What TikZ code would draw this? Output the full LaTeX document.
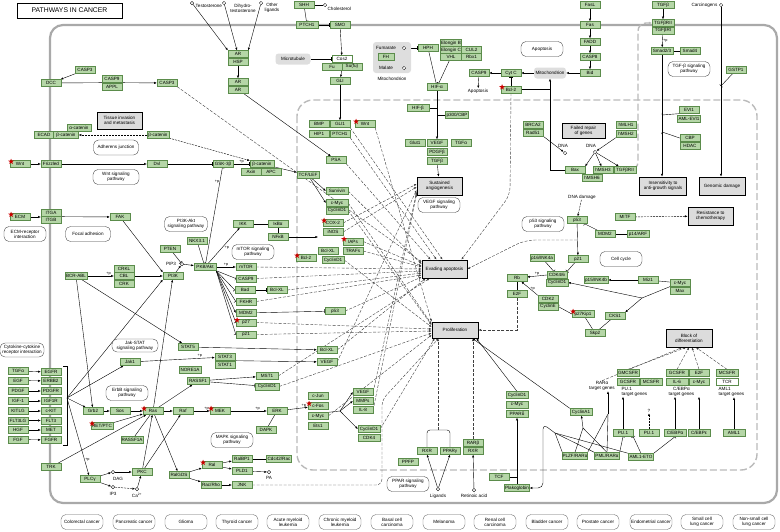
\documentclass[tikz,border=0pt]{standalone}
\usepackage{fontspec}
\setmainfont{Liberation Sans}
\usetikzlibrary{arrows.meta, positioning, shapes.geometric, calc, backgrounds}
\definecolor{kfill}{HTML}{B5D6A7}
\definecolor{kline}{HTML}{5B8C4B}
\definecolor{kgrey}{HTML}{A9A9A9}
\definecolor{kpheno}{HTML}{DCDCDC}
\newcommand{\genefont}{\fontsize{4.6}{5}\selectfont}
\tikzset{
  every picture/.style={line width=0.35pt},
  gene/.style={draw=kline, fill=kfill, font=\genefont, minimum width=#1, minimum height=7pt, inner sep=0pt},
  gene/.default=20pt,
  wgene/.style={gene, fill=white},
  mutstar/.style={star, star points=5, star point ratio=2.4, fill=red!80!black, inner sep=0pt, minimum size=6pt, xshift=3pt, yshift=-3pt},
  mut/.style={label={[mutstar]north west:{}}},
  cpd/.style={circle, draw, fill=white, inner sep=0pt, minimum size=3.5pt},
  lbl/.style={font=\genefont, inner sep=0.5pt, align=center},
  pl/.style={font=\fontsize{3.8}{4}\selectfont, inner sep=0.5pt},
  pway/.style={draw=black!75, fill=white, rounded corners=5pt, align=center, font=\genefont, minimum width=42pt, minimum height=15pt, inner sep=1pt},
  pheno/.style={draw=black, line width=0.9pt, fill=kpheno, align=center, font=\genefont, minimum width=46pt, minimum height=18pt, inner sep=1pt},
  greybox/.style={fill=black!13, rounded corners=3pt, font=\genefont, minimum height=11pt, inner sep=1pt},
  cancer/.style={draw=black!60, rounded corners=5pt, align=center, font=\genefont, minimum width=42pt, minimum height=15pt, inner sep=1pt},
  titlebox/.style={draw, line width=0.8pt, font=\fontsize{6.8}{7}\selectfont, minimum width=105pt, minimum height=15pt},
  membrane/.style={draw=kgrey, line width=2.2pt, rounded corners=13pt},
  nucleus/.style={draw=kgrey!80, line width=1.4pt, dash pattern=on 7pt off 3pt, rounded corners=16pt},
  act/.style={-{Latex[length=2.6pt, width=2.2pt]}},
  inh/.style={-{Bar[width=4pt]}},
  ind/.style={-{Latex[length=2.6pt, width=2.2pt]}, dash pattern=on 2pt off 1pt},
  phen/.style={-{Latex[length=2.6pt, width=2.2pt]}, dash pattern=on 3pt off 1.5pt, draw=black!75},
  bond/.style={},
}

\begin{document}
\begin{tikzpicture}[x=1pt, y=-1pt]
  \useasboundingbox (0,0) rectangle (780,531);

  \node[titlebox] (title) at (69.5,10.5) {PATHWAYS IN CANCER};

  \node[gene] (casp3a) at (85,70) {CASP3};
  \node[gene] (dcc) at (51,83) {DCC};
  \node[gene] (casp9a) at (112,79) {CASP9};
  \node[gene] (appl) at (112,86.5) {APPL};
  \node[gene] (casp3b) at (167,83) {CASP3};
  \node[pheno, minimum width=45pt, minimum height=17pt] (tissue) at (119.5,120.5) {Tissue invasion\\and metastasis};
  \node[gene=24pt] (acat) at (79,127.5) {α-catenin};
  \node[gene=19pt] (ecad) at (44,135) {ECAD};
  \node[gene=25pt] (bcat1) at (66,135) {β-catenin};
  \node[gene=22pt] (bcat2) at (158,135) {β-catenin};
  \node[pway, minimum width=45pt] (adherens) at (116,147.5) {Adherens junction};
  \node[gene, mut] (wnt1) at (20,164) {Wnt};
  \node[gene] (fzd) at (51,164) {Frizzled};
  \node[gene] (dvl) at (157,164) {Dvl};
  \node[pway, minimum width=46pt] (wntpw) at (116,177) {Wnt signaling\\pathway};

  \node[cpd] (testo) at (192,3) {};
  \node[lbl, anchor=west] (testolbl) at (195,6) {Testosterone};
  \node[cpd] (dht) at (224,3) {};
  \node[lbl] (dhtlbl) at (243,8) {Dihydro-\\testosterone};
  \node[cpd] (oth) at (261,3) {};
  \node[lbl] (othlbl) at (272,8) {Other\\ligands};
  \node[gene] (ar1) at (238,54) {AR};
  \node[gene] (hsp) at (238,61.5) {HSP};
  \node[gene] (ar2) at (238,82) {AR};
  \node[gene] (ar3) at (238,89.5) {AR};
  \node[gene] (shh) at (304,5) {SHH};
  \node[cpd] (chol) at (325,5) {};
  \node[lbl, anchor=west] (chollbl) at (327,9) {Cholesterol};
  \node[gene=22pt] (ptch1a) at (307,25) {PTCH1};
  \node[gene] (smo) at (340,25) {SMO};
  \node[greybox, minimum width=35pt] (microt) at (293,59) {Microtubule};
  \node[wgene] (cos2) at (342,59) {Cos2};
  \node[gene] (fu) at (332,66.5) {Fu};
  \node[gene] (sufu) at (352,66.5) {Su(fu)};
  \node[gene] (gli) at (340,81) {GLI};

  \node[greybox, minimum width=38pt, minimum height=31pt] (mitoreg) at (392,57.5) {};
  \node[lbl] (fumlbl) at (386,48) {Fumarate};
  \node[cpd] (fum) at (404,48) {};
  \node[gene=16pt] (fh) at (386,57) {FH};
  \node[lbl] (mallbl) at (386,68) {Malate};
  \node[cpd] (mal) at (404,68) {};
  \node[lbl] (mitolbl) at (392,79) {Mitochondrion};
  \node[gene] (hph) at (428,48) {HPH};
  \node[gene=21pt] (elob) at (451,43) {Elongin B};
  \node[gene=21pt] (eloc) at (451,50) {Elongin C};
  \node[gene] (cul2) at (471.5,50) {CUL2};
  \node[gene=21pt] (vhl) at (451,57) {VHL};
  \node[gene] (rbx1) at (471.5,57) {Rbx1};
  \node[gene] (hifa) at (437,87) {HIF-α};
  \node[gene=22pt] (hifb) at (418,108) {HIF-β};
  \node[gene=23pt] (p300) at (457,115) {p300/CBP};
  \node[gene] (glut1) at (415,143) {Glut1};
  \node[gene] (vegf1) at (437,143) {VEGF};
  \node[gene] (tgfa1) at (461,143) {TGFα};
  \node[gene] (pdgfb) at (437,152) {PDGFβ};
  \node[gene] (tgfb1) at (437,161) {TGFβ};

  \node[pway] (apopw) at (542,49) {Apoptosis};
  \node[gene] (casp9b) at (479,73) {CASP9};
  \node[gene] (cytc) at (511,73) {Cyt C};
  \node[greybox, minimum width=32pt] (mitoch) at (550,73) {Mitochondrion};
  \node[lbl] (apolbl) at (478,91) {Apoptosis};
  \node[gene, mut] (bcl2a) at (511,89.5) {Bcl-2};
  \node[gene] (brca2) at (533,125) {BRCA2};
  \node[gene] (rad51) at (533,132.5) {Rad51};
  \node[cpd] (dna1) at (565,153) {};
  \node[lbl] (dna1lbl) at (563,146) {DNA};
  \node[gene] (fasl) at (590,5) {FasL};
  \node[gene] (fas) at (590,25) {Fas};
  \node[gene] (fadd) at (590,42) {FADD};
  \node[gene] (casp8) at (590,57) {CASP8};
  \node[gene] (bid) at (590,73) {Bid};
  \node[gene=22pt] (tgfb0) at (663,5) {TGFβ};
  \node[gene=22pt] (tgfbr2a) at (663,23) {TGFβRII};
  \node[gene=22pt] (tgfbr1) at (663,30.5) {TGFβRI};
  \node[gene=22pt] (smad23) at (662,51) {Smad2/3};
  \node[gene] (smad4) at (690,51) {Smad4};
  \node[pway] (tgfbpw) at (689,69) {TGF-β signaling\\pathway};
  \node[lbl, anchor=east] (carclbl) at (718,5) {Carcinogens};
  \node[cpd] (carc) at (721,5) {};
  \node[gene] (gstp1) at (736,70) {GSTP1};
  \node[gene] (evi1) at (689,110) {EVI1};
  \node[gene=23pt] (amlevi) at (689,119) {AML-EVI1};
  \node[gene] (cbp) at (690,138) {CBP};
  \node[gene] (hdac) at (690,145.5) {HDAC};
  \node[pheno, minimum width=43pt, minimum height=15pt] (failed) at (583.5,130.5) {Failed repair\\of genes};
  \node[gene] (hmlh1) at (626,125) {hMLH1};
  \node[gene] (hmsh2) at (626,134) {hMSH2};
  \node[cpd] (dna2) at (595,152) {};
  \node[lbl] (dna2lbl) at (591,146) {DNA};
  \node[gene] (bax) at (575,170) {Bax};
  \node[gene] (hmsh3) at (603,170) {hMSH3};
  \node[gene=22pt] (tgfbr2b) at (625,170) {TGFβRII};
  \node[gene] (hmsh6) at (592,178) {hMSH6};
  \node[pheno, minimum width=47pt] (insens) at (663,186) {Insensitivity to\\anti-growth signals};
  \node[pheno] (genomic) at (722,186) {Genomic damage};

  \node[gene, mut] (ecm) at (20,217) {ECM};
  \node[gene] (itga) at (51,213) {ITGA};
  \node[gene] (itgb) at (51,220) {ITGB};
  \node[gene] (fak) at (120,217) {FAK};
  \node[pway] (ecmpw) at (25,234) {ECM-receptor\\interaction};
  \node[pway, minimum width=45pt] (focalpw) at (88,234) {Focal adhesion};
  \node[pway, minimum width=43pt] (pi3kpw) at (186,224) {PI3K-Akt\\signaling pathway};
  \node[gene] (nkx) at (197,241) {NKX3.1};
  \node[gene] (pten) at (170,249) {PTEN};
  \node[lbl] (pip3lbl) at (171,264) {PIP3};
  \node[cpd] (pip3) at (182,264) {};
  \node[gene=22pt] (akt) at (205,267) {PKB/Akt};
  \node[gene=22pt] (bcrabl) at (76,276) {BCR-ABL};
  \node[gene] (crkl) at (124,268.5) {CRKL};
  \node[gene] (cbl) at (124,276) {CBL};
  \node[gene] (crk) at (124,283.5) {CRK};
  \node[gene] (pi3k) at (173,276) {PI3K};
  \node[gene] (ikk) at (243,224) {IKK};
  \node[gene] (ikba) at (278,224) {IκBα};
  \node[gene] (nfkb) at (278,237) {NFκB};
  \node[gene=22pt] (tcflef) at (308,175) {TCF/LEF};
  \node[gene=22pt] (survivin) at (337,191) {Survivin};
  \node[gene=22pt] (cmyc1) at (337,203) {c-Myc};
  \node[gene=22pt] (ccnd1a) at (337,210.5) {CyclinD1};
  \node[gene, mut] (cox2) at (333,223) {COX-2};
  \node[gene] (inos) at (333,232) {iNOS};
  \node[gene, mut] (iaps) at (353,241.5) {IAPs};
  \node[gene] (bclxl1) at (328,251) {Bcl-XL};
  \node[gene] (trafs) at (353,251) {TRAFs};
  \node[gene, mut] (bcl2b) at (306,258) {Bcl-2};
  \node[gene=22pt] (ccnd1b) at (333,260) {CyclinD1};
  \node[pway] (mtorpw) at (253,252) {mTOR signaling\\pathway};
  \node[gene] (mtor) at (246,267) {mTOR};
  \node[gene] (casp9c) at (246,278.5) {CASP9};
  \node[gene] (bad) at (245,290) {Bad};
  \node[gene] (bclxl2) at (277,290) {Bcl-XL};
  \node[gene] (fkhr) at (246,301.5) {FKHR};
  \node[gene] (mdm2a) at (246,313) {MDM2};
  \node[gene] (p53a) at (335,311) {p53};
  \node[gene, mut] (p27a) at (246,322.5) {p27};
  \node[gene] (p21a) at (246,334.5) {p21};
  \node[gene] (bclxl3) at (327,350) {Bcl-XL};
  \node[gene] (bmp) at (319,124) {BMP};
  \node[gene] (gli1) at (340,124) {GLI1};
  \node[gene, mut] (wnt2) at (365,124) {Wnt};
  \node[gene] (hip1) at (319,134) {HIP1};
  \node[gene] (ptch1b) at (340,134) {PTCH1};
  \node[gene] (psa) at (336,160) {PSA};
  \node[gene] (gsk) at (223,164) {GSK-3β};
  \node[gene=24pt] (bcat3) at (262,164) {β-catenin};
  \node[gene] (axin) at (251,172) {Axin};
  \node[gene] (apc) at (271,172) {APC};

  \node[pheno, minimum width=45pt] (angio) at (439.5,186) {Sustained\\angiogenesis};
  \node[pway] (vegfpw) at (439,205) {VEGF signaling\\pathway};
  \node[pheno, minimum width=45pt] (evading) at (444.5,269) {Evading apoptosis};
  \node[pheno, minimum height=16pt] (prolif) at (455,330) {Proliferation};

  \node[pway] (p53pw) at (543,224) {p53 signaling\\pathway};
  \node[lbl] (dnadmg) at (582,197) {DNA damage};
  \node[gene] (p53b) at (577,220) {p53};
  \node[gene] (mdm2b) at (605,234) {MDM2};
  \node[gene=22pt] (p14arf) at (638,234) {p14/ARF};
  \node[gene=24pt] (p16) at (542,258) {p16/INK4a};
  \node[gene] (cdk46) at (557,275) {CDK4/6};
  \node[gene=22pt] (ccnd1c) at (557,282.5) {CyclinD1};
  \node[gene] (rb) at (517,278) {Rb};
  \node[gene] (e2f1) at (517,294) {E2F};
  \node[gene] (cdk2) at (548,299) {CDK2};
  \node[gene] (ccne) at (548,306.5) {CyclinE};
  \node[gene] (p21b) at (578,259) {p21};
  \node[pway] (cellcyc) at (621,259) {Cell cycle};
  \node[gene=24pt] (p15) at (596,280) {p15/INK4b};
  \node[gene] (miz1) at (648,280) {Miz1};
  \node[gene] (cmyc2) at (680,283) {c-Myc};
  \node[gene] (max) at (680,290.5) {Max};
  \node[gene=22pt, mut] (p27b) at (583,314) {p27Kip1};
  \node[gene] (cks1) at (615,316) {CKS1};
  \node[gene] (skp2) at (595,333) {Skp2};
  \node[gene] (mitf) at (625,217) {MITF};
  \node[pheno, minimum width=45pt] (resist) at (710.5,216) {Resistance to\\chemotherapy};
  \node[pheno] (block) at (689,338) {Block of\\differentiation};

  \node[pway, minimum width=44pt, minimum height=14pt] (cytopw) at (22,350) {Cytokine-cytokine\\receptor interaction};
  \node[gene] (tgfa2) at (18,371) {TGFα};
  \node[gene] (egf) at (18,380.5) {EGF};
  \node[gene] (pdgf) at (18,391) {PDGF};
  \node[gene] (igf1) at (18,401) {IGF-1};
  \node[gene] (kitlg) at (18,411) {KITLG};
  \node[gene] (flt3lg) at (18,420.5) {FLT3LG};
  \node[gene] (hgf) at (18,430) {HGF};
  \node[gene] (fgf) at (18,439.5) {FGF};
  \node[gene] (egfr) at (51,372) {EGFR};
  \node[gene] (erbb2) at (51,381) {ERBB2};
  \node[gene] (pdgfr) at (51,391) {PDGFR};
  \node[gene] (igf1r) at (51,401) {IGF1R};
  \node[gene] (ckit) at (51,411) {c-KIT};
  \node[gene] (flt3) at (51,420.5) {FLT3};
  \node[gene] (met) at (51,430) {MET};
  \node[gene] (fgfr) at (51,440) {FGFR};
  \coordinate (rtk) at (67,398);
  \node[gene] (jak1) at (130,362) {Jak1};
  \node[pway, minimum width=46pt, minimum height=13pt] (jakpw) at (135,345.5) {Jak-STAT\\signaling pathway};
  \node[pway] (erbbpw) at (127,393) {ErbB signaling\\pathway};
  \node[gene] (grb2) at (93,411) {Grb2};
  \node[gene] (sos) at (120,411) {Sos};
  \node[gene, mut] (ras) at (153,411) {Ras};
  \node[gene] (raf) at (183,411) {Raf};
  \node[gene=22pt, mut] (retptc) at (102,426) {RET/PTC};
  \node[gene=22pt] (rassf1a) at (132,440) {RASSF1A};
  \node[gene] (trk) at (51,467) {TRK};
  \node[gene] (plcg) at (90,479) {PLCγ};
  \node[cpd] (dag) at (113,472) {};
  \node[lbl] (daglbl) at (118,479) {DAG};
  \node[cpd] (ip3) at (113,487) {};
  \node[lbl] (ip3lbl) at (113,494) {IP3};
  \node[gene] (pkc) at (142,472) {PKC};
  \node[cpd] (ca) at (137,489) {};
  \node[lbl] (calbl) at (137,495.5) {Ca\textsuperscript{2+}};
  \node[gene] (ralgds) at (179,475) {RalGDS};
  \node[gene=22pt] (nore1a) at (190,369.5) {NORE1A};
  \node[gene=22pt] (rassf1) at (198,381) {RASSF1};
  \node[gene] (stat5) at (188,347) {STAT5};
  \node[gene] (stat3) at (225,357) {STAT3};
  \node[gene] (stat1) at (225,365) {STAT1};
  \node[gene] (vegf2) at (327,362) {VEGF};
  \node[gene=22pt] (mst1) at (267,376) {MST1};
  \node[gene=24pt] (ccnd1d) at (267,386.5) {CyclinD1};
  \node[gene, mut] (mek) at (220,411) {MEK};
  \node[gene] (erk) at (277,411) {ERK};
  \node[gene] (dapk) at (266,430) {DAPK};
  \node[gene] (cjun) at (318,396) {c-Jun};
  \node[gene, mut] (cfos) at (318,406) {c-Fos};
  \node[gene] (cmyc3) at (318,416) {c-Myc};
  \node[gene] (ets1) at (318,426) {Ets1};
  \node[gene] (vegf3) at (363,392) {VEGF};
  \node[gene] (mmps) at (363,401) {MMPs};
  \node[gene] (il8) at (363,410) {IL-8};
  \node[gene=22pt] (ccnd1e) at (369,429) {CyclinD1};
  \node[gene=22pt] (cdk4) at (369,438) {CDK4};
  \node[pway] (mapkpw) at (232,440) {MAPK signaling\\pathway};
  \node[gene, mut] (ral) at (212,465) {Ral};
  \node[gene] (ralbp1) at (242,459) {RalBP1};
  \node[gene=25pt] (cdc42) at (279,459) {Cdc42/Rac};
  \node[gene] (pld1) at (242,471) {PLD1};
  \node[cpd] (pa) at (269,472) {};
  \node[lbl] (palbl) at (269,478) {PA};
  \node[gene] (racrho) at (211,485) {Rac/Rho};
  \node[gene] (jnk) at (242,485) {JNK};

  \node[gene] (rxr1) at (427,451) {RXR};
  \node[gene] (pparg) at (450,451) {PPARγ};
  \node[gene] (ppfp) at (408,462) {PPFP};
  \node[gene] (rarb) at (473,443) {RARβ};
  \node[gene] (rxr2) at (473,451) {RXR};
  \node[pway] (pparpw) at (408,484) {PPAR signaling\\pathway};
  \node[cpd] (lig) at (438,489) {};
  \node[lbl] (liglbl) at (438,496) {Ligands};
  \node[cpd] (retac) at (474,490) {};
  \node[lbl] (retaclbl) at (474,496) {Retinoic acid};
  \node[gene] (tcf) at (499,477) {TCF};
  \node[gene=25pt] (plako) at (517,488) {Plakoglobin};
  \node[gene=22pt] (ccnd1f) at (517,395) {CyclinD1};
  \node[gene=22pt] (cmyc4) at (517,404.5) {c-Myc};
  \node[gene=22pt] (ppard) at (517,414) {PPARδ};

  \node[gene=22pt] (ccna1) at (581,412) {CyclinA1};
  \node[gene=25pt] (plzf) at (575,456) {PLZF/RARα};
  \node[gene=25pt] (pml) at (607,456) {PML/RARα};
  \node[gene=25pt] (amleto) at (641,457) {AML1-ETO};
  \node[gene] (pu1a) at (623,433) {PU.1};
  \node[gene] (pu1b) at (649,433) {PU.1};
  \node[gene=22pt] (cebpa) at (675,433) {C/EBPα};
  \node[gene=22pt] (cebpe) at (699,433) {C/EBPε};
  \node[gene=22pt] (aml1) at (734,433) {AML1};
  \node[gene=22pt] (gmcsfr) at (628,373) {GMCSFR};
  \node[gene=22pt] (gcsfr1) at (628,382) {GCSFR};
  \node[gene=22pt] (mcsfr1) at (651,382) {MCSFR};
  \node[gene=22pt] (gcsfr2) at (677,373) {GCSFR};
  \node[gene] (e2f2) at (699,373) {E2F};
  \node[gene=22pt] (il6) at (677,382) {IL-6};
  \node[gene] (cmyc5) at (699,382) {c-Myc};
  \node[gene=22pt] (mcsfr2) at (727,373) {MCSFR};
  \node[wgene, minimum width=22pt] (tcr) at (727,382) {TCR};
  \node[lbl] (rartg) at (602,386) {RARα\\target genes};
  \node[lbl, align=left, anchor=west] (pu1tg) at (621,391.5) {PU.1\\target genes};
  \node[lbl, anchor=west] (cebptg) at (668,391.5) {C/EBPα\\target genes};
  \node[lbl, align=left, anchor=west] (aml1tg) at (718,392) {AML1\\target genes};
  \node[lbl] (qmark) at (649,411) {?};

  \node[cancer] (crc) at (82,522) {Colorectal cancer};
  \node[cancer] (panc) at (134,522) {Pancreatic cancer};
  \node[cancer] (glioma) at (186,522) {Glioma};
  \node[cancer] (thyroid) at (237,522) {Thyroid cancer};
  \node[cancer] (aml) at (288,522) {Acute myeloid\\leukemia};
  \node[cancer] (cml) at (340,522) {Chronic myeloid\\leukemia};
  \node[cancer] (bcc) at (392,522) {Basal cell\\carcinoma};
  \node[cancer] (melan) at (444,522) {Melanoma};
  \node[cancer] (rcc) at (495,522) {Renal cell\\carcinoma};
  \node[cancer] (bladder) at (547,522) {Bladder cancer};
  \node[cancer] (prostate) at (598,522) {Prostate cancer};
  \node[cancer] (endo) at (651,522) {Endometrial cancer};
  \node[cancer] (sclc) at (702,522) {Small cell\\lung cancer};
  \node[cancer] (nsclc) at (754,522) {Non-small cell\\lung cancer};

  \coordinate (hifj1) at (437,108);
  \coordinate (hifj2) at (437,115);
  \coordinate (baxl) at (550,89.5);
  \coordinate (smadl1) at (662,115);
  \coordinate (smadl2) at (662,132);
  \coordinate (carcl) at (721,86);
  \coordinate (nfkbt) at (318,237);
  \coordinate (ap1) at (340,411);
  \coordinate (p53j) at (577,240);
  \coordinate (mycj) at (642,298);
  \coordinate (rarj) at (608,414);
  \coordinate (ccnaj) at (583,428);
  \coordinate (plakj) at (555,433);
  \coordinate (pparj) at (438,430);

  \begin{scope}[on background layer]
  \draw[membrane] (50,25) rectangle (777,503);
  \draw[nucleus] (297,100) rectangle (757,470);
  \draw[nucleus, rounded corners=8pt, -{Latex[length=3pt, width=3pt]}] (tgfbr2b.east) -- (638,170) -- (638,23) -- (tgfbr2a.west);
  \draw[bond] (63,366) -- (67,366) -- (67,445) -- (63,445);

  \draw[act] (casp3a) -- (dcc);
  \draw[bond] (dcc) -- (casp9a.south west);
  \draw[act] (casp9a.south east) -- (casp3b);
  \draw[bond] (acat) -- (bcat1);
  \draw[ind] (bcat2) -- (bcat1);
  \draw[act] (wnt1) -- (fzd);
  \draw[act] (fzd) -- (dvl);
  \draw[inh] (dvl) -- (gsk);
  \draw[inh] (gsk) -- node[pl, above] {+p} (bcat3);
  \draw[ind] (bcat2) -- (bcat3);
  \draw[act] (bcat3) -- (tcflef);
  \draw[act] (tcflef) -- (survivin.west);
  \draw[act] (tcflef) -- (cmyc1.west);
  \draw[act] (testo) -- (ar1.north west);
  \draw[act] (dht) -- (ar1);
  \draw[act] (oth) -- (ar1.north east);
  \draw[act] (hsp) -- (ar2);
  \draw[act] (ar3) -- (psa);
  \draw[bond] (chol) -- (shh);
  \draw[inh] (shh) -- (ptch1a);
  \draw[inh] (ptch1a) -- (smo);
  \draw[act] (smo) -- (cos2);
  \draw[inh] (microt) -- (cos2);
  \draw[act] (sufu.south west) -- (gli);
  \draw[act] (gli) -- (gli1);
  \draw[act] (fum) -- (mal);
  \draw[inh] (fum) -- (hph);
  \draw[inh] (hph) -- (hifa);
  \draw[inh] (vhl) -- (hifa);
  \draw[act] (hifa) -- (vegf1);
  \draw[bond] (hifb) -- (hifj1);
  \draw[bond] (p300) -- (hifj2);
  \draw[act] (tgfb1) -- (angio);

  \draw[act] (fasl) -- (fas);
  \draw[act] (fas) -- (fadd);
  \draw[act] (fadd) -- (casp8);
  \draw[act] (casp8) -- (bid);
  \draw[act] (bid) -- (mitoch);
  \draw[act] (mitoch) -- (cytc);
  \draw[act] (cytc) -- (casp9b);
  \draw[act] (casp9b) -- (apolbl);
  \draw[inh] (bcl2a) -- (cytc);
  \draw[act] (bax.west) -| (mitoch.south);
  \draw[inh] (baxl) -- (bcl2a);
  \draw[phen, rounded corners=8pt] (bcl2a.south) -- (510,195) -- ([xshift=-6pt]evading.north east);
  \draw[act] (rad51.south east) -- (dna1);
  \draw[act] (hmsh2.south west) -- (dna2);
  \draw[act] (dna2) -- (bax.north east);
  \draw[act] (dna2) -- (hmsh3);
  \draw[act] (dna2) -- (tgfbr2b);

  \draw[act] (tgfb0) -- (tgfbr2a);
  \draw[act] (tgfbr1) -- node[pl, right] {+p} (smad23);
  \draw[bond] (smad23) -- (smad4);
  \draw[act] (smad23) -- (smad23 |- insens.north);
  \draw[inh] (evi1.south west) -- (smadl1);
  \draw[inh] (cbp.west) -- (smadl2);
  \draw[act] (carc) -- (carc |- genomic.north);
  \draw[inh] (gstp1) -- (carcl);
  \draw[ind] (mitf) -- (resist);

  \draw[act] (ecm.east) -- (ecm.east -| itga.west);
  \draw[act] (itga.south east) -- (fak);
  \draw[act] (fak) -- (pi3k.north west);
  \draw[act] (bcrabl) -- node[pl, above, pos=0.8] {+p} (cbl);
  \draw[act] (cbl) -- (pi3k);
  \draw[act] (pi3k) -- (pip3);
  \draw[inh] (pten) -- (pip3);
  \draw[act] (pip3) -- (akt);
  \draw[inh] (nkx) -- (akt);
  \draw[act] (akt) -- node[pl, below right] {+p} (ikk);
  \draw[bond] (ikk) -- (ikba);
  \draw[inh] (ikba) -- (nfkb);
  \draw[act] (nfkb) -- (nfkbt);
  \draw[act] (akt.east) -- node[pl, above] {+p} (mtor.west);
  \draw[inh] (akt.south east) -- (casp9c.west);
  \draw[inh] (akt.south east) -- (bad.west);
  \draw[inh] (akt.south east) -- (fkhr.west);
  \draw[act] (akt.south east) -- (mdm2a.west);
  \draw[inh] (akt.south east) -- (p27a.west);
  \draw[inh] (akt.south east) -- (p21a.west);
  \draw[inh] (akt) -- node[pl, left, pos=0.85] {+p} (gsk);
  \draw[inh] (bad) -- (bclxl2);
  \draw[inh] (mdm2a) -- (p53a);

  \draw[act] (tgfa2) -- (egfr);
  \draw[act] (egf) -- (erbb2);
  \draw[act] (pdgf) -- (pdgfr);
  \draw[act] (igf1) -- (igf1r);
  \draw[act] (kitlg) -- (ckit);
  \draw[act] (flt3lg) -- (flt3);
  \draw[act] (hgf) -- (met);
  \draw[act] (fgf) -- (fgfr);
  \draw[act] (rtk) -- (jak1);
  \draw[act] (rtk) -- (grb2);
  \draw[act] (rtk) -- (pi3k.south west);
  \draw[act] (rtk) -- node[pl, right, pos=0.8] {+p} (plcg);
  \draw[act] (bcrabl) -- (grb2);
  \draw[act] (bcrabl) -- (stat5);
  \draw[act] (grb2) -- (sos);
  \draw[act] (sos) -- (ras);
  \draw[act] (retptc) -- (ras);
  \draw[bond] (rassf1a) -- (ras);
  \draw[act] (trk) -- (ras);
  \draw[act] (ras) -- (raf);
  \draw[act] (ras) -- (pi3k);
  \draw[act] (ras) -- (ralgds);
  \draw[act] (ras) -- (rassf1);
  \draw[act] (pkc) -- (ras);
  \draw[act] (pkc) -- (raf);
  \draw[act] (raf) -- node[pl, above, pos=0.8] {+p} (mek);
  \draw[act] (mek) -- node[pl, above, pos=0.75] {+p} (erk);
  \draw[bond] (dapk) -- (erk);
  \draw[act] (erk) -- node[pl, above, pos=0.8] {+p} (cfos);
  \draw[bond] (cmyc3.north east) -- (ap1);
  \draw[act] (ap1) -- (vegf3.west);
  \draw[act] (ap1) -- (mmps.west);
  \draw[act] (ap1) -- (ccnd1e.west);
  \draw[act] (jak1) -- node[pl, above, pos=0.8] {+p} (stat3);
  \draw[act] (stat3.south east) -- (vegf2);
  \draw[act] (stat5) -- (bclxl3);
  \draw[act] (rassf1) -- (mst1);
  \draw[inh] (rassf1) -- (ccnd1d);
  \draw[act] (ralgds) -- (ral);
  \draw[act] (ralgds) -- (racrho);
  \draw[act] (ral) -- (ralbp1);
  \draw[act] (ral) -- (pld1);
  \draw[inh] (ralbp1) -- (cdc42);
  \draw[act] (pld1) -- (pa);
  \draw[act] (racrho) -- (jnk);
  \draw[act] (plcg) -- (dag);
  \draw[act] (plcg) -- (ip3);
  \draw[act] (dag) -- (pkc);
  \draw[ind] (ip3) -- (ca);
  \draw[act] (ca) -- (pkc);

  \draw[ind] (dnadmg) -- (p53b);
  \draw[act] (p53b) -- (p21b);
  \draw[inh] (mdm2b) -- (p53b);
  \draw[inh] (p14arf) -- (mdm2b);
  \draw[phen, rounded corners=10pt] (p53j) -- (525,240) -- (evading.east);
  \draw[inh] (p21b) -- (cdk46.north east);
  \draw[inh] (p16) -- (cdk46);
  \draw[act] (cdk46.west) -- node[pl, above] {+p} (rb);
  \draw[act] (cdk2.north west) -- node[pl, right] {+p} (rb);
  \draw[inh] (rb) -- (e2f1);
  \draw[act] (miz1) -- (p15);
  \draw[bond] (cmyc2) -- (miz1);
  \draw[bond] (cmyc2.south west) -- (mycj);
  \draw[act] (mycj) -- (ccnd1c.east);
  \draw[act] (mycj) -- (cks1.north east);
  \draw[inh] (p27b.west) -- (ccne.east);
  \draw[bond] (p27b) -- (skp2);
  \draw[bond] (cks1) -- (skp2);

  \draw[act] (lig) -- (rxr1.south);
  \draw[act] (lig) -- (pparg.south);
  \draw[act] (retac) -- (rxr2);
  \draw[bond, rounded corners=3pt] (rxr1.north) -- (427,430) -- (450,430) -- (pparg.north);
  \draw[phen] (pparj) -- (pparj |- prolif.south);
  \draw[phen] (rarb.north) -- (rarb.north |- prolif.south);
  \draw[bond] (tcf.east) -- (tcf.east -| plako.north);
  \draw[act] (plako) -- (ppard);
  \draw[act] (ccnd1f.north) -- ([xshift=-2pt]prolif.south east);
  \draw[act] (ccna1.north west) -- ([xshift=-6pt]prolif.south east);
  \draw[bond] (plzf.north west) -- (plakj);
  \draw[bond] (pml.north west) -- (plakj);
  \draw[bond] (amleto.north west) -- (plakj);
  \draw[act, rounded corners=5pt] (plakj) -- (543,424) -- (543,488) -- (plako.east);
  \draw[bond] (plzf.north) -- (ccnaj);
  \draw[bond] (pml.north) -- (ccnaj);
  \draw[act] (ccnaj) -- (ccna1);
  \draw[bond] (plzf.north east) -- (rarj);
  \draw[bond] (pml.north) -- (rarj);
  \draw[act] (rarj) -- (rarj |- rartg.south);
  \draw[inh] (pml.north east) -- (pu1a.south);
  \draw[inh] (amleto.north) -- (pu1a.south east);
  \draw[inh] (amleto.north east) -- (cebpa.south);
  \draw[act] (pu1a) -- (pu1a |- pu1tg.south);
  \draw[ind] (pu1b) -- (qmark);
  \draw[act] (cebpa) -- (cebpa |- cebptg.south);
  \draw[act] (cebpe) -- (cebpe |- cebptg.south);
  \draw[act] (aml1) -- (aml1 |- aml1tg.south);
  \draw[phen] (rartg.north) -- ([xshift=-7pt]block.south);
  \draw[phen] (gmcsfr.north) -- ([xshift=-3pt]block.south);
  \draw[phen] (gcsfr2.north) -- (block.south);
  \draw[phen] (e2f2.north) -- ([xshift=3pt]block.south);
  \draw[phen] (mcsfr2.north) -- ([xshift=7pt]block.south);

  \draw[phen] (casp3b.south east) -- ([yshift=7pt]evading.west);
  \draw[phen] (survivin.east) -- ([yshift=5pt]evading.west);
  \draw[phen] (iaps.east) -- ([yshift=3pt]evading.west);
  \draw[phen] (trafs.east) -- ([yshift=2pt]evading.west);
  \draw[phen] (mtor.east) -- (evading.west);
  \draw[phen] (casp9c.east) -- ([yshift=-2pt]evading.west);
  \draw[phen] (bclxl2.east) -- ([yshift=-4pt]evading.west);
  \draw[phen] (fkhr.east) -- ([yshift=-6pt]evading.west);
  \draw[phen] (p53a.east) -- ([yshift=-8pt]evading.west);
  \draw[phen] (bclxl3.east) -- ([xshift=4pt]evading.south west);
  \draw[phen] (mst1.east) -- ([xshift=8pt]evading.south west);
  \draw[phen] (psa.south east) -- ([xshift=-14pt]evading.north);
  \draw[phen] (ptch1b.south east) -- ([xshift=-8pt]evading.north);
  \draw[phen] (gli1.south east) -- ([xshift=-2pt]evading.north);
  \draw[phen] (cmyc1.east) -- ([yshift=6pt]prolif.west);
  \draw[phen] (ccnd1a.east) -- ([yshift=5pt]prolif.west);
  \draw[phen] (ccnd1b.east) -- ([yshift=3pt]prolif.west);
  \draw[phen] (p27a.east) -- ([yshift=1pt]prolif.west);
  \draw[phen] (p21a.east) -- ([yshift=-1pt]prolif.west);
  \draw[phen] (ccnd1d.east) -- ([yshift=-3pt]prolif.west);
  \draw[phen] (cmyc3.east) -- ([yshift=-5pt]prolif.west);
  \draw[phen] (ccnd1e.east) -- ([xshift=3pt]prolif.south west);
  \draw[phen] (wnt2.south east) -- (prolif.north west);
  \draw[phen, rounded corners=6pt] (jnk.east) -- (382,485) -- (382,400) -- ([xshift=7pt]prolif.south west);
  \draw[phen] (e2f1.south) |- (prolif.east);
  \draw[phen] (cox2.east) -- ([yshift=2pt]angio.west);
  \draw[phen] (inos.east) -- ([yshift=-1pt]angio.west);
  \draw[phen] (vegf2.east) -- ([yshift=-4pt]angio.west);
  \draw[phen] (vegf3.east) -- ([yshift=-6pt]angio.west);
  \draw[phen] (il8.east) -- ([yshift=-8pt]angio.west);
  \end{scope}
\end{tikzpicture}
\end{document}
